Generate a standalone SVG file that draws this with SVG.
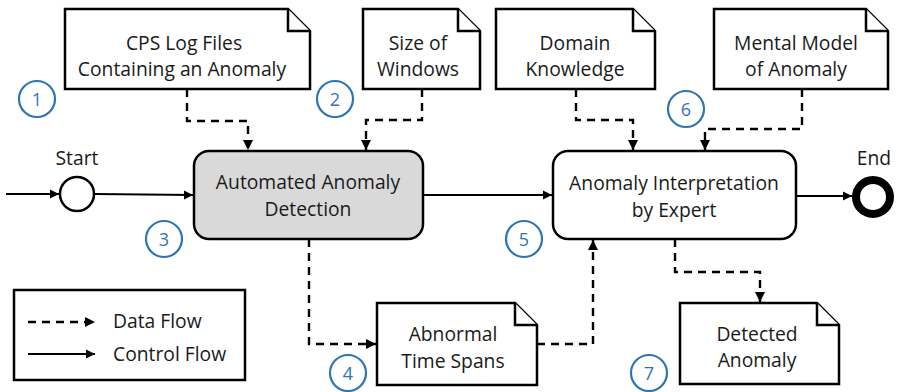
<svg xmlns="http://www.w3.org/2000/svg" width="898" height="392" viewBox="0 0 898 392">
<style>
text{font-family:"Open Sans","Noto Sans",sans-serif;font-size:19.3px;fill:#1a1a1a;text-anchor:middle}
.note{fill:#fff;stroke:#000;stroke-width:2.5;stroke-linejoin:miter}
.box{stroke:#000;stroke-width:2.5}
.num circle{fill:#fff;stroke:#2e75b6;stroke-width:2.2}
.num text{fill:#2e75b6;font-size:18px}
.data{fill:none;stroke:#000;stroke-width:2.4;stroke-dasharray:8 6;marker-end:url(#ah)}
.ctrl{fill:none;stroke:#000;stroke-width:2.2;marker-end:url(#ah)}
</style>
<defs>
<marker id="ah" viewBox="0 0 10 10" refX="10" refY="5" markerWidth="4.2" markerHeight="4.2" orient="auto" markerUnits="strokeWidth">
<path d="M0,0 L10,5 L0,10 z" fill="#000"/>
</marker>
</defs>
<rect width="898" height="392" fill="#fff"/>

<g id="connectors">
<path class="ctrl" d="M6,194 H59"/>
<path class="ctrl" d="M95,194 L193,195"/>
<path class="ctrl" d="M423,195 H552"/>
<path class="ctrl" d="M796,196 H852"/>
<path class="data" d="M187,89 V121 H248 V150"/>
<path class="data" d="M422,89 V120 H366 V150"/>
<path class="data" d="M576,89 V120 H633 V150"/>
<path class="data" d="M802,89 V129 H705 V150"/>
<path class="data" d="M309,239 V344 H376"/>
<path class="data" d="M537,344 H593 V240"/>
<path class="data" d="M675,239 V272 H760 V302"/>
</g>

<g id="note-cps">
<path class="note" d="M65,9 H288 L310,31 V89 H65 Z"/>
<path class="note" d="M288,9 V31 H310"/>
<text x="184" y="50">CPS Log Files</text>
<text x="182" y="76">Containing an Anomaly</text>
</g>
<g id="note-size">
<path class="note" d="M363,9 H458 L480,31 V89 H363 Z"/>
<path class="note" d="M458,9 V31 H480"/>
<text x="418" y="50">Size of</text>
<text x="418" y="76">Windows</text>
</g>
<g id="note-domain">
<path class="note" d="M496,9 H633 L655,31 V89 H496 Z"/>
<path class="note" d="M633,9 V31 H655"/>
<text x="575" y="50">Domain</text>
<text x="575" y="76">Knowledge</text>
</g>
<g id="note-mental">
<path class="note" d="M714,9 H866 L888,31 V89 H714 Z"/>
<path class="note" d="M866,9 V31 H888"/>
<text x="796" y="50">Mental Model</text>
<text x="796" y="76">of Anomaly</text>
</g>

<g id="start">
<text x="77" y="165">Start</text>
<circle cx="77" cy="194" r="17" fill="#fff" stroke="#000" stroke-width="2.5"/>
</g>
<g id="automated">
<rect class="box" x="194" y="151" width="229" height="88" rx="15" fill="#d9d9d9"/>
<text x="308" y="189">Automated Anomaly</text>
<text x="308" y="216">Detection</text>
</g>
<g id="interpretation">
<rect class="box" x="553" y="151" width="243" height="88" rx="15" fill="#fff"/>
<text x="674" y="190">Anomaly Interpretation</text>
<text x="674" y="217">by Expert</text>
</g>
<g id="end">
<text x="874" y="165">End</text>
<circle cx="873" cy="197" r="17" fill="#fff" stroke="#000" stroke-width="8"/>
</g>

<g id="note-abnormal">
<path class="note" d="M377,303 H515 L537,325 V385 H377 Z"/>
<path class="note" d="M515,303 V325 H537"/>
<text x="453" y="341">Abnormal</text>
<text x="453" y="368">Time Spans</text>
</g>
<g id="note-detected">
<path class="note" d="M680,303 H817 L839,325 V384 H680 Z"/>
<path class="note" d="M817,303 V325 H839"/>
<text x="757" y="341">Detected</text>
<text x="757" y="367">Anomaly</text>
</g>

<g id="legend">
<rect x="14" y="290" width="231" height="90" fill="#fff" stroke="#000" stroke-width="2.5"/>
<path class="data" d="M28,322 H95"/>
<path class="ctrl" d="M28,354 H95"/>
<text x="113" y="328" style="text-anchor:start">Data Flow</text>
<text x="113" y="361" style="text-anchor:start">Control Flow</text>
</g>

<g id="n1" class="num"><circle cx="37" cy="99" r="18"/><text x="37" y="105.5">1</text></g>
<g id="n2" class="num"><circle cx="335" cy="99" r="18"/><text x="335" y="105.5">2</text></g>
<g id="n3" class="num"><circle cx="164" cy="239" r="18"/><text x="164" y="245.5">3</text></g>
<g id="n4" class="num"><circle cx="348" cy="373" r="18"/><text x="348" y="379.5">4</text></g>
<g id="n5" class="num"><circle cx="524" cy="239" r="18"/><text x="524" y="245.5">5</text></g>
<g id="n6" class="num"><circle cx="686" cy="109" r="18"/><text x="686" y="115.5">6</text></g>
<g id="n7" class="num"><circle cx="649" cy="373" r="18"/><text x="649" y="379.5">7</text></g>
</svg>
